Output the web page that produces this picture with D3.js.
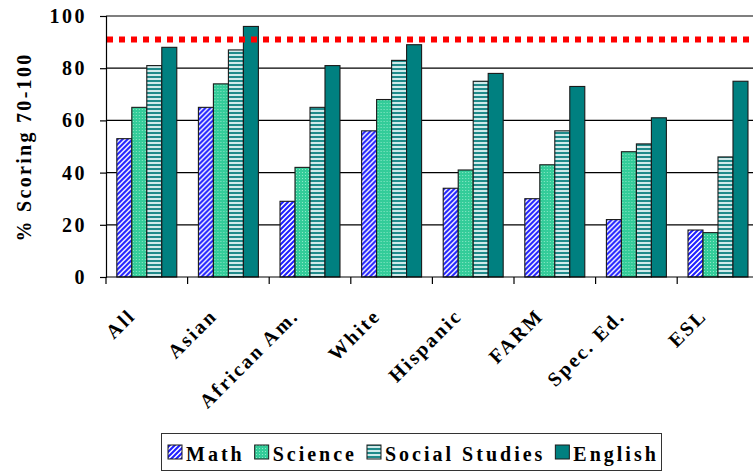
<!DOCTYPE html>
<html>
<head>
<meta charset="utf-8">
<script src="https://cdn.jsdelivr.net/npm/d3@7"></script>
<style>
  html, body { margin: 0; padding: 0; background: #fff; }
  svg { display: block; }
  text { font-family: "Liberation Serif", Tinos, "Times New Roman", Times, "DejaVu Serif", serif; font-weight: bold; fill: #000; }
</style>
</head>
<body>
<svg id="chart" width="753" height="472"></svg>
<script>
// Student groups along the x axis
const categories = ["All", "Asian", "African Am.", "White", "Hispanic", "FARM", "Spec. Ed.", "ESL"];
// Subjects (one bar each per group)
const subjects = ["Math", "Science", "Social Studies", "English"];
// Percent of students scoring 70-100, per subject, in category order
const math          = [53, 65, 29, 56, 34, 30, 22, 18];
const science       = [65, 74, 42, 68, 41, 43, 48, 17];
const socialStudies = [81, 87, 65, 83, 75, 56, 51, 46];
const english       = [88, 96, 81, 89, 78, 73, 61, 75];
// Target level drawn as a dotted reference line
const targetLevel = 91;
const yTicks = [0, 20, 40, 60, 80, 100];

const seriesValues = [math, science, socialStudies, english];
const serif = '"Liberation Serif", Tinos, "Times New Roman", Times, "DejaVu Serif", serif';

const svg = d3.select("#chart");
const margin = { left: 106, top: 16, bottom: 277 };
const step = 81.6;
const plotRight = margin.left + step * categories.length;

// Fill patterns for the bars
const defs = svg.append("defs");

const pMath = defs.append("pattern").attr("id", "pat-math")
  .attr("patternUnits", "userSpaceOnUse").attr("width", 5).attr("height", 5);
pMath.append("rect").attr("width", 5).attr("height", 5).attr("fill", "#ffffff");
pMath.append("path").attr("d", "M-1,6 L6,-1 M-1,1 L1,-1 M4,6 L6,4")
  .attr("stroke", "#1f1fff").attr("stroke-width", 2.1);

const pSci = defs.append("pattern").attr("id", "pat-sci")
  .attr("patternUnits", "userSpaceOnUse").attr("width", 3).attr("height", 3);
pSci.append("rect").attr("width", 3).attr("height", 3).attr("fill", "#33cc99");
pSci.append("rect").attr("x", 1).attr("y", 1).attr("width", 1).attr("height", 1).attr("fill", "#8fe8c8");

const pSoc = defs.append("pattern").attr("id", "pat-soc")
  .attr("patternUnits", "userSpaceOnUse").attr("width", 4).attr("height", 4);
pSoc.append("rect").attr("width", 4).attr("height", 4).attr("fill", "#d0eaea");
pSoc.append("rect").attr("y", 0).attr("width", 4).attr("height", 2).attr("fill", "#1f8a8a");

const fills = ["url(#pat-math)", "url(#pat-sci)", "url(#pat-soc)", "#008080"];

// Scales
const x0 = d3.scaleBand().domain(categories)
  .range([margin.left, plotRight])
  .paddingInner(0.265).paddingOuter(0.1325);
const x1 = d3.scaleBand().domain(subjects).range([0, x0.bandwidth()]).padding(0);
const y = d3.scaleLinear().domain([0, 100]).range([margin.bottom, margin.top]);

// Horizontal gridlines
svg.append("g").selectAll("line").data(yTicks.filter(d => d > 0)).join("line")
  .attr("x1", margin.left).attr("x2", plotRight)
  .attr("y1", d => y(d)).attr("y2", d => y(d))
  .attr("stroke", "#000").attr("stroke-width", 1.2);

// Bars
const groups = svg.append("g").selectAll("g").data(categories).join("g")
  .attr("transform", d => `translate(${x0(d)},0)`);
groups.selectAll("rect")
  .data((c, ci) => subjects.map((s, si) => ({ s, si, v: seriesValues[si][ci] })))
  .join("rect")
  .attr("x", d => x1(d.s))
  .attr("width", x1.bandwidth())
  .attr("y", d => y(d.v))
  .attr("height", d => y(0) - y(d.v))
  .attr("fill", d => fills[d.si])
  .attr("stroke", "#1a1a1a").attr("stroke-width", 1.1);

// Target line
svg.append("line")
  .attr("x1", margin.left + 1).attr("x2", plotRight)
  .attr("y1", y(targetLevel)).attr("y2", y(targetLevel))
  .attr("stroke", "#ff0000").attr("stroke-width", 6)
  .attr("stroke-dasharray", "6,6");

// Y axis
const yAxis = d3.axisLeft(y).tickValues(yTicks).tickSize(6).tickPadding(13);
const gy = svg.append("g").attr("transform", `translate(${margin.left},0)`).call(yAxis)
  .attr("font-family", null).attr("font-size", null);
gy.select(".domain").attr("stroke", "#000").attr("stroke-width", 1.2);
gy.selectAll(".tick line").attr("stroke", "#000").attr("stroke-width", 1.2);
gy.selectAll(".tick text")
  .style("font-family", serif)
  .style("font-weight", "bold").style("font-size", "20px")
  .style("letter-spacing", "2.5px").attr("fill", "#000");

// X axis: baseline plus ticks at the group boundaries
const bounds = d3.range(categories.length + 1).map(i => margin.left + i * step);
svg.append("line").attr("x1", margin.left).attr("x2", plotRight)
  .attr("y1", margin.bottom).attr("y2", margin.bottom)
  .attr("stroke", "#000").attr("stroke-width", 1.2);
svg.append("g").selectAll("line").data(bounds).join("line")
  .attr("x1", d => d).attr("x2", d => d)
  .attr("y1", margin.bottom).attr("y2", margin.bottom + 7)
  .attr("stroke", "#000").attr("stroke-width", 1.2);

// Category labels, rotated
svg.append("g").selectAll("text").data(categories).join("text")
  .attr("text-anchor", "end")
  .attr("transform", d => `translate(${x0(d) + x0.bandwidth() / 2 - 10},317) rotate(-45)`)
  .style("font-family", serif)
  .style("font-size", "20px").style("letter-spacing", "2.3px")
  .text(d => d);

// Y axis title
svg.append("text")
  .attr("text-anchor", "middle")
  .attr("transform", "translate(31,147) rotate(-90)")
  .style("font-family", serif)
  .style("font-size", "20px").style("letter-spacing", "2.3px")
  .text("% Scoring 70-100");

// Legend
const legend = svg.append("g");
legend.append("rect").attr("x", 161.5).attr("y", 433.5).attr("width", 500).attr("height", 37)
  .attr("fill", "#fff").attr("stroke", "#333").attr("stroke-width", 1);
let lx = 168;
subjects.forEach((s, i) => {
  legend.append("rect").attr("x", lx).attr("y", 445).attr("width", 14).attr("height", 14)
    .attr("fill", fills[i]).attr("stroke", "#1a1a1a").attr("stroke-width", 1);
  const t = legend.append("text").attr("x", lx + 18).attr("y", 461)
    .style("font-family", serif)
    .style("font-size", "20px").style("letter-spacing", "3px").text(s);
  lx += 18 + t.node().getComputedTextLength() + 10;
});
</script>
</body>
</html>
